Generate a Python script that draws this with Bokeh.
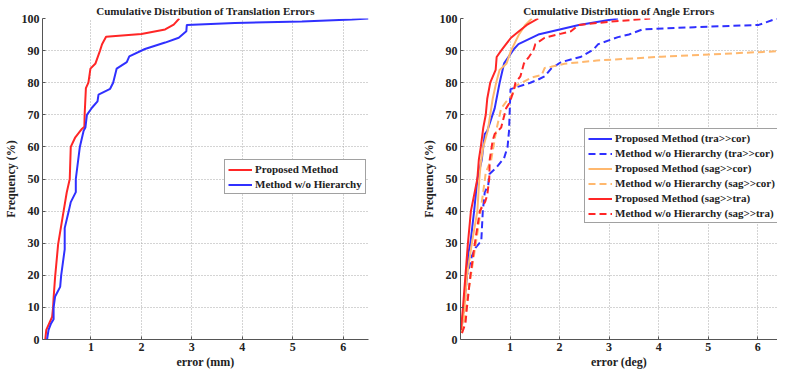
from bokeh.plotting import figure
from bokeh.layouts import row
from bokeh.models import FixedTicker, Legend, LegendItem, Range1d
from bokeh.embed import file_html
from bokeh.resources import INLINE

# ---------------- data: translation errors (mm) ----------------
trans_prop_x = [0.095, 0.115, 0.23, 0.25, 0.26, 0.29, 0.35, 0.45, 0.52, 0.58, 0.60, 0.69, 0.82, 0.87,
                0.875, 0.90, 0.95, 0.99, 1.09, 1.18, 1.22, 1.30, 2.00, 2.47, 2.64, 2.75]
trans_prop_y = [0, 3, 7, 10, 13, 19.5, 29.7, 39.2, 45.8, 50, 60, 63, 65.6, 66.3,
                70, 78.3, 80, 84.4, 86, 90, 92, 94.3, 95.2, 96.6, 98.1, 100]
trans_noh_x = [0.13, 0.16, 0.21, 0.26, 0.26, 0.29, 0.39, 0.41, 0.48, 0.48, 0.56, 0.60, 0.70, 0.70,
               0.78, 0.855, 0.89, 0.92, 1.02, 1.13, 1.15, 1.38, 1.44, 1.51, 1.71, 1.76, 2.07, 2.47,
               2.74, 2.89, 2.90, 3.85, 5.18, 6.17, 6.5]
trans_noh_y = [0, 3, 5, 6.3, 10, 13.4, 16.4, 20, 28.1, 34.7, 40, 42.8, 45.9, 50,
               60, 65, 66, 70, 72.2, 74.2, 76.3, 78.1, 80, 84.4, 86.4, 88.2, 90.5, 92.5,
               94, 96, 98, 98.6, 99.1, 99.7, 100]

# ---------------- data: angle errors (deg) ----------------
tc_prop_x = [0.02, 0.065, 0.13, 0.16, 0.20, 0.275, 0.34, 0.43, 0.49, 0.54, 0.69, 0.79, 0.88, 1.08,
             1.17, 1.57, 2.39, 3.18]
tc_prop_y = [3, 10, 19.5, 27, 30, 40, 50, 56, 64, 65, 72, 80, 86, 90.5,
             92, 95, 98, 100]
tc_noh_x = [0.03, 0.08, 0.13, 0.23, 0.31, 0.42, 0.45, 0.49, 0.56, 0.58, 0.72, 0.88, 0.95, 0.98,
            1.00, 1.01, 1.11, 1.41, 1.57, 1.70, 1.83, 2.03, 2.42, 2.68, 2.78, 3.18, 3.40, 3.67,
            4.72, 6.02, 6.39]
tc_noh_y = [5, 10, 20, 26, 28.7, 30.7, 40, 45.9, 48, 51.5, 53.5, 56.5, 60, 65,
            74, 78, 78.5, 80, 81, 82, 84.4, 86.4, 88, 90.3, 92, 94.2, 95, 96.6,
            97.3, 98, 100]
sc_prop_x = [0.02, 0.08, 0.13, 0.23, 0.34, 0.38, 0.41, 0.46, 0.55, 0.60, 0.65, 0.72, 0.79, 0.93,
             1.02, 1.18, 1.31, 1.44]
sc_prop_y = [3, 10, 20, 30, 40, 50, 55, 60, 65, 70, 75, 80, 84, 86,
             90, 95, 98, 100]
sc_noh_x = [0.02, 0.07, 0.16, 0.26, 0.36, 0.45, 0.51, 0.62, 0.72, 0.82, 0.92, 1.05, 1.11, 1.24,
            1.44, 1.64, 1.70, 1.83, 2.10, 2.75, 4.06, 6.40]
sc_noh_y = [2, 5, 15, 25, 35, 45, 52, 56, 65, 72, 74, 76.3, 79, 80,
            81.6, 82.4, 84.6, 85, 85.9, 86.9, 88.1, 89.8]
st_prop_x = [0.01, 0.05, 0.10, 0.15, 0.18, 0.21, 0.34, 0.37, 0.41, 0.46, 0.51, 0.54, 0.60, 0.71,
             0.73, 0.82, 0.92, 1.02, 1.18, 1.34, 1.57]
st_prop_y = [3, 10, 20, 30, 35, 40, 50, 56, 60, 66, 70, 75, 80, 84,
             88, 90, 92, 94, 96, 98, 100]
st_noh_x = [0.03, 0.10, 0.13, 0.20, 0.29, 0.39, 0.50, 0.54, 0.58, 0.59, 0.65, 0.69, 0.82, 0.92,
            1.00, 1.08, 1.11, 1.21, 1.28, 1.38, 1.47, 1.51, 1.70, 1.96, 2.23, 2.39, 3.01, 3.83]
st_noh_y = [2, 5, 10, 20, 30, 40, 43, 45, 50, 56, 62, 64, 66, 72,
            74, 78, 80, 82, 86, 88, 90, 92, 94, 95, 96, 98, 99, 100]

x_ticks = [1, 2, 3, 4, 5, 6]
y_ticks = [0, 10, 20, 30, 40, 50, 60, 70, 80, 90, 100]

BLUE = "#3030ff"
RED = "#ff2626"
ORANGE = "#ffb86e"
SERIF = "Liberation Serif"


def style(p, xlabel):
    p.title.text_font = SERIF
    p.title.text_font_style = "bold"
    p.title.text_font_size = "11px"
    p.title.align = "center"
    p.title.offset = 0
    p.title.standoff = 4
    p.title.text_color = "#222222"
    p.xaxis.ticker = FixedTicker(ticks=x_ticks)
    p.yaxis.ticker = FixedTicker(ticks=y_ticks)
    p.xaxis.axis_label = xlabel
    p.yaxis.axis_label = "Frequency (%)"
    for ax in (p.xaxis[0], p.yaxis[0]):
        ax.major_label_text_font = SERIF
        ax.major_label_text_font_style = "bold"
        ax.major_label_text_font_size = "12px"
        ax.major_label_text_color = "#222222"
        ax.axis_label_text_font = SERIF
        ax.axis_label_text_font_style = "bold"
        ax.axis_label_text_font_size = "12px"
        ax.axis_label_text_color = "#222222"
        ax.axis_line_color = "#555555"
        ax.major_tick_line_color = "#555555"
        ax.major_tick_in = 3
        ax.major_tick_out = 0
        ax.minor_tick_line_color = None
        ax.major_label_standoff = 3
        ax.axis_label_standoff = 1
    for g in (p.xgrid[0], p.ygrid[0]):
        g.grid_line_color = "#a8a8a8"
        g.grid_line_dash = "1 2"
        g.grid_line_width = 1
    p.outline_line_color = None
    p.background_fill_color = "white"
    p.border_fill_color = "white"


FH = 321

# ---------------- left figure ----------------
p1 = figure(frame_width=326, frame_height=FH, output_backend="svg", toolbar_location=None,
            title="Cumulative Distribution of Translation Errors",
            x_range=Range1d(0.04, 6.5), y_range=Range1d(0, 100),
            min_border_left=33, min_border_right=50, min_border_top=14, min_border_bottom=30)
style(p1, "error (mm)")
r1 = p1.line(trans_prop_x, trans_prop_y, line_color=RED, line_width=2)
r2 = p1.line(trans_noh_x, trans_noh_y, line_color=BLUE, line_width=2)
leg1 = Legend(items=[LegendItem(label="Proposed Method", renderers=[r1]),
                     LegendItem(label="Method w/o Hierarchy", renderers=[r2])],
              location=(182, 145))
p1.add_layout(leg1, "center")

# ---------------- right figure ----------------
p2 = figure(frame_width=317, frame_height=FH, output_backend="svg", toolbar_location=None,
            title="Cumulative Distribution of Angle Errors",
            x_range=Range1d(0, 6.4), y_range=Range1d(0, 100),
            min_border_left=37, min_border_right=0, min_border_top=14, min_border_bottom=30)
style(p2, "error (deg)")
a1 = p2.line(tc_prop_x, tc_prop_y, line_color=BLUE, line_width=2)
a2 = p2.line(tc_noh_x, tc_noh_y, line_color=BLUE, line_width=2, line_dash="7 4")
a3 = p2.line(sc_prop_x, sc_prop_y, line_color=ORANGE, line_width=2)
a4 = p2.line(sc_noh_x, sc_noh_y, line_color=ORANGE, line_width=2, line_dash="7 4")
a5 = p2.line(st_prop_x, st_prop_y, line_color=RED, line_width=2)
a6 = p2.line(st_noh_x, st_noh_y, line_color=RED, line_width=2, line_dash="7 4")
leg2 = Legend(items=[LegendItem(label="Proposed Method (tra>>cor)", renderers=[a1]),
                     LegendItem(label="Method w/o Hierarchy (tra>>cor)", renderers=[a2]),
                     LegendItem(label="Proposed Method (sag>>cor)", renderers=[a3]),
                     LegendItem(label="Method w/o Hierarchy (sag>>cor)", renderers=[a4]),
                     LegendItem(label="Proposed Method (sag>>tra)", renderers=[a5]),
                     LegendItem(label="Method w/o Hierarchy (sag>>tra)", renderers=[a6])],
              location=(124, 116))
p2.add_layout(leg2, "center")

for leg in (leg1, leg2):
    leg.label_text_font = SERIF
    leg.label_text_font_style = "bold"
    leg.label_text_font_size = "11px"
    leg.label_text_color = "#222222"
    leg.label_height = 11
    leg.glyph_height = 11
    leg.glyph_width = 24
    leg.label_standoff = 3
    leg.spacing = 3
    leg.padding = 3
    leg.margin = 0
    leg.border_line_color = "#444444"
    leg.border_line_width = 1
    leg.background_fill_alpha = 1

layout = row(p1, p2)
open("out.html", "w").write(file_html(layout, INLINE))
